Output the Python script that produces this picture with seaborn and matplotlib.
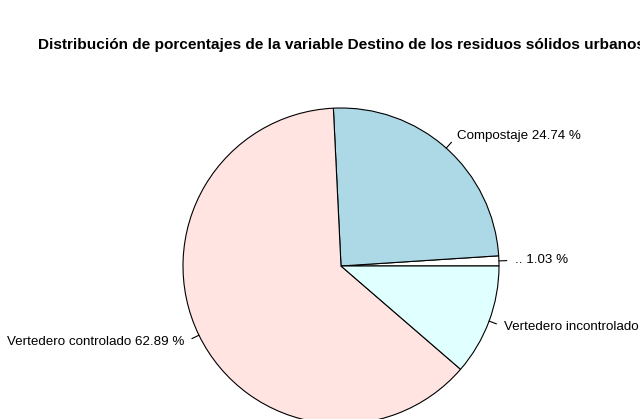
import numpy as np
import matplotlib
matplotlib.use('Agg')
import matplotlib.pyplot as plt
import seaborn as sns

sns.set_theme(style='white')
plt.rcParams['font.family'] = ['Liberation Sans', 'DejaVu Sans']

# data (R-style pie, counterclockwise from 3 o'clock)
categories = ['..', 'Compostaje', 'Vertedero controlado', 'Vertedero incontrolado']
percentages = [1.03, 24.74, 62.89, 11.34]
colors = ['white', 'lightblue', 'mistyrose', 'lightcyan']
labels = [f'{c} {p:.2f} %' for c, p in zip(categories, percentages)]

fig = plt.figure(figsize=(6.4, 4.19), dpi=100)
ax = fig.add_axes([0, 0, 1, 1])
cx, cy, r = 341, 153, 158  # pixel layout of the pie

wedges, texts = ax.pie(percentages, colors=colors, startangle=0, counterclock=True,
                       center=(cx, cy), radius=r, labels=labels, labeldistance=1.1,
                       wedgeprops=dict(edgecolor='black', linewidth=0.8), frame=True,
                       textprops=dict(fontsize=9.6, color='black'))
#small tick lines from the edge to the labels, label side like R
for w, t in zip(wedges, texts):
    ang = np.deg2rad((w.theta1 + w.theta2) / 2)
    ax.plot([cx + r * np.cos(ang), cx + 1.05 * r * np.cos(ang)],
            [cy + r * np.sin(ang), cy + 1.05 * r * np.sin(ang)], color='black', lw=0.8)
    t.set_ha('left' if np.cos(ang) > 0 else 'right')
    t.set_va('center')

ax.set_xlim(0, 640)
ax.set_ylim(0, 419)
ax.set_aspect('equal')
ax.axis('off')

fig.text(341 / 640, 1 - 45 / 419,
         'Distribución de porcentajes de la variable Destino de los residuos sólidos urbanos',
         ha='center', va='center', fontsize=11.1, fontweight='bold', color='black')

fig.savefig('out.png', dpi=100, facecolor='white')
